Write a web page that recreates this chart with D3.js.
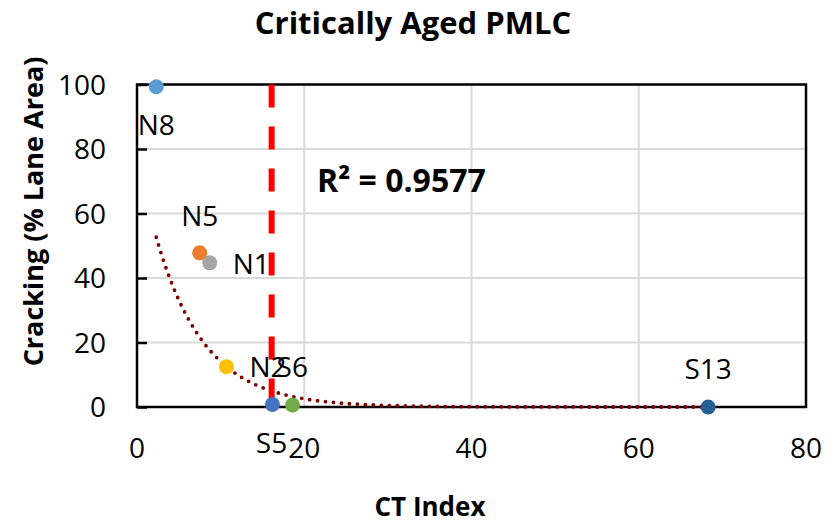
<!DOCTYPE html>
<html>
<head>
<meta charset="utf-8">
<script src="https://cdn.jsdelivr.net/npm/d3@7"></script>
<style>
  body { margin: 0; background: #fff; }
  text { font-family: "Open Sans", "Liberation Sans", sans-serif; fill: #000; }
</style>
</head>
<body>
<div id="chart"></div>
<script>
// data
const sections = ["N8", "N5", "N1", "N2", "S5", "S6", "S13"];
const ctIndex = [2.3, 7.5, 8.7, 10.7, 16.2, 18.6, 68.3];
const cracking = [99.3, 47.8, 44.7, 12.5, 0.8, 0.6, 0.0];
const pointColors = ["#5B9BD5", "#ED7D31", "#A5A5A5", "#FFC000", "#4472C4", "#70AD47", "#255E91"];
const xTicks = [0, 20, 40, 60, 80];
const yTicks = [0, 20, 40, 60, 80, 100];
const cutoffCT = 16.1;
// exponential trendline y = a * exp(b * x)
const trendA = 78;
const trendB = -0.171;
const rSquared = "R² = 0.9577";

// label placement (dx, dy from point, anchor)
const labelPos = [
    [0, 48, "middle"],
    [-0, -27, "middle"],
    [23, 11, "start"],
    [23, 10, "start"],
    [-1, 49, "middle"],
    [-16, -28, "start"],
    [0, -28, "middle"]
];

const margin = {top: 84.5, right: 25, bottom: 118, left: 137};
const width = 831 - margin.left - margin.right;
const height = 525 - margin.top - margin.bottom;

const root = d3.select("#chart")
    .append("svg")
    .attr("width", 831)
    .attr("height", 525);

const svg = root.append("g")
    .attr("transform", `translate(${margin.left},${margin.top})`);

const xScale = d3.scaleLinear().domain([0, 80]).range([0, width]);
const yScale = d3.scaleLinear().domain([0, 100]).range([height, 0]);

// gridlines
svg.append("g")
    .selectAll("line")
    .data(yTicks)
    .enter().append("line")
    .attr("x1", 0).attr("x2", width)
    .attr("y1", d => yScale(d)).attr("y2", d => yScale(d))
    .attr("stroke", "#d9d9d9").attr("stroke-width", 2);

svg.append("g")
    .selectAll("line")
    .data(xTicks)
    .enter().append("line")
    .attr("x1", d => xScale(d)).attr("x2", d => xScale(d))
    .attr("y1", 0).attr("y2", height)
    .attr("stroke", "#d9d9d9").attr("stroke-width", 2);

// frame
svg.append("rect")
    .attr("x", 0).attr("y", 0)
    .attr("width", width).attr("height", height)
    .attr("fill", "none")
    .attr("stroke", "#000")
    .attr("stroke-width", 2.5);

// y axis: inside ticks + labels
const yAxis = d3.axisRight(yScale)
    .tickValues(yTicks)
    .tickSize(10)
    .tickFormat("");
svg.append("g")
    .call(yAxis)
    .call(g => g.select(".domain").remove())
    .call(g => g.selectAll("line").attr("stroke", "#000").attr("stroke-width", 2.5));

svg.append("g")
    .selectAll("text")
    .data(yTicks)
    .enter().append("text")
    .attr("x", -31)
    .attr("y", d => yScale(d))
    .attr("dy", "0.36em")
    .attr("text-anchor", "end")
    .style("font-size", "28px")
    .text(d => d);

svg.append("g")
    .selectAll("text")
    .data(xTicks)
    .enter().append("text")
    .attr("x", d => xScale(d))
    .attr("y", height + 51)
    .attr("text-anchor", "middle")
    .style("font-size", "28px")
    .text(d => d);

// trendline
const xMin = d3.min(ctIndex), xMax = d3.max(ctIndex);
const trendX = d3.range(0, 201).map(i => xMin + (xMax - xMin) * i / 200);
const line = d3.line()
    .x(d => xScale(d))
    .y(d => yScale(trendA * Math.exp(trendB * d)));
svg.append("path")
    .datum(trendX)
    .attr("d", line)
    .attr("fill", "none")
    .attr("stroke", "#7b0000")
    .attr("stroke-width", 3.8)
    .attr("stroke-linecap", "round")
    .attr("stroke-dasharray", "0 8");

// cutoff line
svg.append("line")
    .attr("x1", xScale(cutoffCT)).attr("x2", xScale(cutoffCT))
    .attr("y1", 0).attr("y2", height)
    .attr("stroke", "#ff0000")
    .attr("stroke-width", 6)
    .attr("stroke-dasharray", "23 19");

// points
const points = sections.map((s, i) => ({name: s, x: ctIndex[i], y: cracking[i], color: pointColors[i], pos: labelPos[i]}));

svg.selectAll("circle.pt")
    .data(points)
    .enter().append("circle")
    .attr("class", "pt")
    .attr("cx", d => xScale(d.x))
    .attr("cy", d => yScale(d.y))
    .attr("r", 7.5)
    .attr("fill", d => d.color);

svg.selectAll("text.lbl")
    .data(points)
    .enter().append("text")
    .attr("class", "lbl")
    .attr("x", d => xScale(d.x) + d.pos[0])
    .attr("y", d => yScale(d.y) + d.pos[1])
    .attr("text-anchor", d => d.pos[2])
    .style("font-size", "28px")
    .text(d => d.name);

// R squared
svg.append("text")
    .attr("x", 317 - margin.left)
    .attr("y", 192 - margin.top)
    .style("font-size", "32px")
    .style("font-weight", "bold")
    .text(rSquared);

// titles
root.append("text")
    .attr("x", 413)
    .attr("y", 34)
    .attr("text-anchor", "middle")
    .style("font-size", "31px")
    .style("font-weight", "bold")
    .text("Critically Aged PMLC");

root.append("text")
    .attr("x", 430)
    .attr("y", 516)
    .attr("text-anchor", "middle")
    .style("font-size", "26px")
    .style("font-weight", "bold")
    .text("CT Index");

root.append("text")
    .attr("transform", "translate(43,211.5) rotate(-90)")
    .attr("text-anchor", "middle")
    .style("font-size", "27px")
    .style("font-weight", "bold")
    .text("Cracking (% Lane Area)");
</script>
</body>
</html>
